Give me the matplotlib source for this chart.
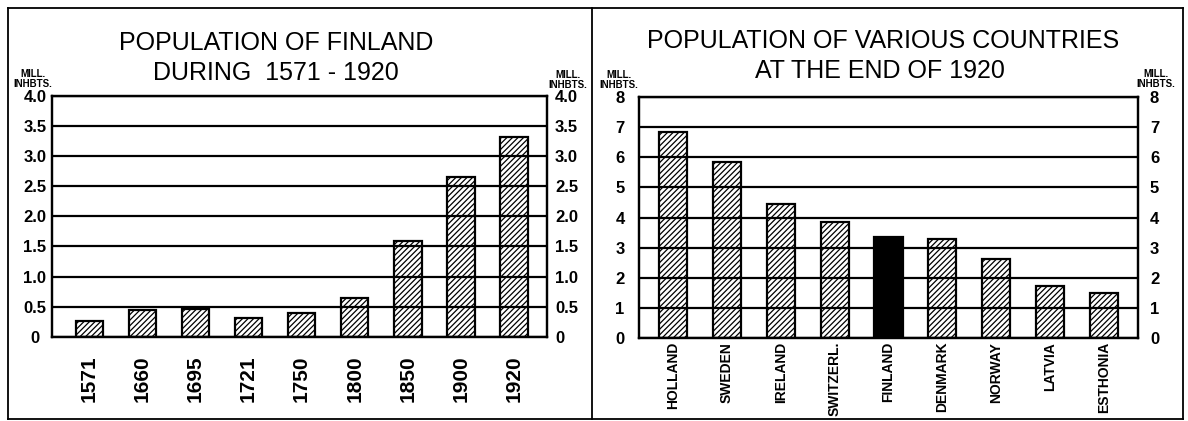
import matplotlib
matplotlib.use("Agg")
import matplotlib.pyplot as plt
from matplotlib.lines import Line2D

# population of Finland, millions
years = ['1571', '1660', '1695', '1721', '1750', '1800', '1850', '1900', '1920']
finland_pop = [0.27, 0.45, 0.47, 0.31, 0.40, 0.65, 1.59, 2.65, 3.32]
finland_ticks = [0, 0.5, 1.0, 1.5, 2.0, 2.5, 3.0, 3.5, 4.0]
finland_tick_labels = ['0', '0.5', '1.0', '1.5', '2.0', '2.5', '3.0', '3.5', '4.0']

# population of various countries at the end of 1920, millions
countries = ['HOLLAND', 'SWEDEN', 'IRELAND', 'SWITZERL.', 'FINLAND',
             'DENMARK', 'NORWAY', 'LATVIA', 'ESTHONIA']
country_pop = [6.86, 5.86, 4.44, 3.86, 3.36, 3.28, 2.61, 1.71, 1.50]
country_ticks = [0, 1, 2, 3, 4, 5, 6, 7, 8]
country_tick_labels = ['0', '1', '2', '3', '4', '5', '6', '7', '8']

W, H = 1188, 421
sans = ['Liberation Sans', 'DejaVu Sans']
plt.rcParams['hatch.linewidth'] = 0.9


def fx(px):
    return px / W


def fy(py):
    return 1 - py / H


def panel(rect, labels, values, ticks, tick_labels, xlim, lpad, rpad, xfont, xpad, highlight=None):
    ax = fig.add_axes(rect)
    x = range(len(values))
    bars = ax.bar(x, values, width=0.52, color='white', edgecolor='black',
                  linewidth=1.6, hatch='//////')
    if highlight is not None:
        bars[highlight].set_facecolor('black')
        bars[highlight].set_hatch(None)
    ax.set_xlim(*xlim)
    ax.set_ylim(ticks[0], ticks[-1])
    ax.set_yticks(ticks, tick_labels)
    ax.yaxis.grid(True, color='black', linewidth=1.6)
    ax.set_axisbelow(False)
    ax.set_xticks(list(x), labels, rotation=90, fontfamily=sans,
                  fontweight='bold', fontsize=xfont)
    ax.tick_params(axis='x', length=0, pad=xpad)
    ax.tick_params(axis='y', length=0, pad=lpad)
    for lbl in ax.get_yticklabels():
        lbl.set_fontfamily(sans)
        lbl.set_fontweight('bold')
        lbl.set_fontsize(12)
        lbl.set_horizontalalignment('center')
    for s in ax.spines.values():
        s.set_linewidth(1.6)

    ax2 = ax.twinx()
    ax2.set_ylim(ticks[0], ticks[-1])
    ax2.set_yticks(ticks, tick_labels, fontfamily=sans, fontweight='bold', fontsize=12)
    ax2.tick_params(axis='y', length=0, pad=rpad)
    for s in ax2.spines.values():
        s.set_linewidth(1.6)
    return ax


fig = plt.figure(figsize=(W / 100, H / 100), dpi=100)

# left panel
panel([fx(52.3), fy(337), fx(546.7) - fx(52.3), fy(95.5) - fy(337)],
      years, finland_pop, finland_ticks, finland_tick_labels,
      (-0.7, 8.62), 12.5, 6, 15, 13)

# right panel
panel([fx(639), fy(337.7), fx(1138) - fx(639), fy(97.3) - fy(337.7)],
      countries, country_pop, country_ticks, country_tick_labels,
      (-0.63, 8.63), 13.7, 8.6, 10, 3, highlight=4)

# titles
fig.text(fx(276), fy(50), 'POPULATION OF FINLAND', ha='center', va='baseline',
         fontfamily=sans, fontsize=18)
fig.text(fx(276), fy(80), 'DURING  1571 - 1920', ha='center', va='baseline',
         fontfamily=sans, fontsize=18)
fig.text(fx(883), fy(48), 'POPULATION OF VARIOUS COUNTRIES', ha='center', va='baseline',
         fontfamily=sans, fontsize=18)
fig.text(fx(880), fy(78), 'AT THE END OF 1920', ha='center', va='baseline',
         fontfamily=sans, fontsize=18)

# unit labels
for cx, cy in [(33, 79), (568, 80), (619, 80), (1156, 79)]:
    fig.text(fx(cx), fy(cy), 'MILL.\nINHBTS.', ha='center', va='center',
             multialignment='center', fontfamily=sans, fontweight='bold',
             fontsize=7, linespacing=0.95)

# outer frame and divider
frame = [([8, 1183], [8, 8]), ([8, 1183], [419, 419]), ([8, 8], [8, 419]),
         ([1183, 1183], [8, 419]), ([592, 592], [8, 419])]
for xs, ys in frame:
    fig.add_artist(Line2D([fx(v) for v in xs], [fy(v) for v in ys],
                          color='black', linewidth=1.3))

fig.savefig('out.png', dpi=100)
